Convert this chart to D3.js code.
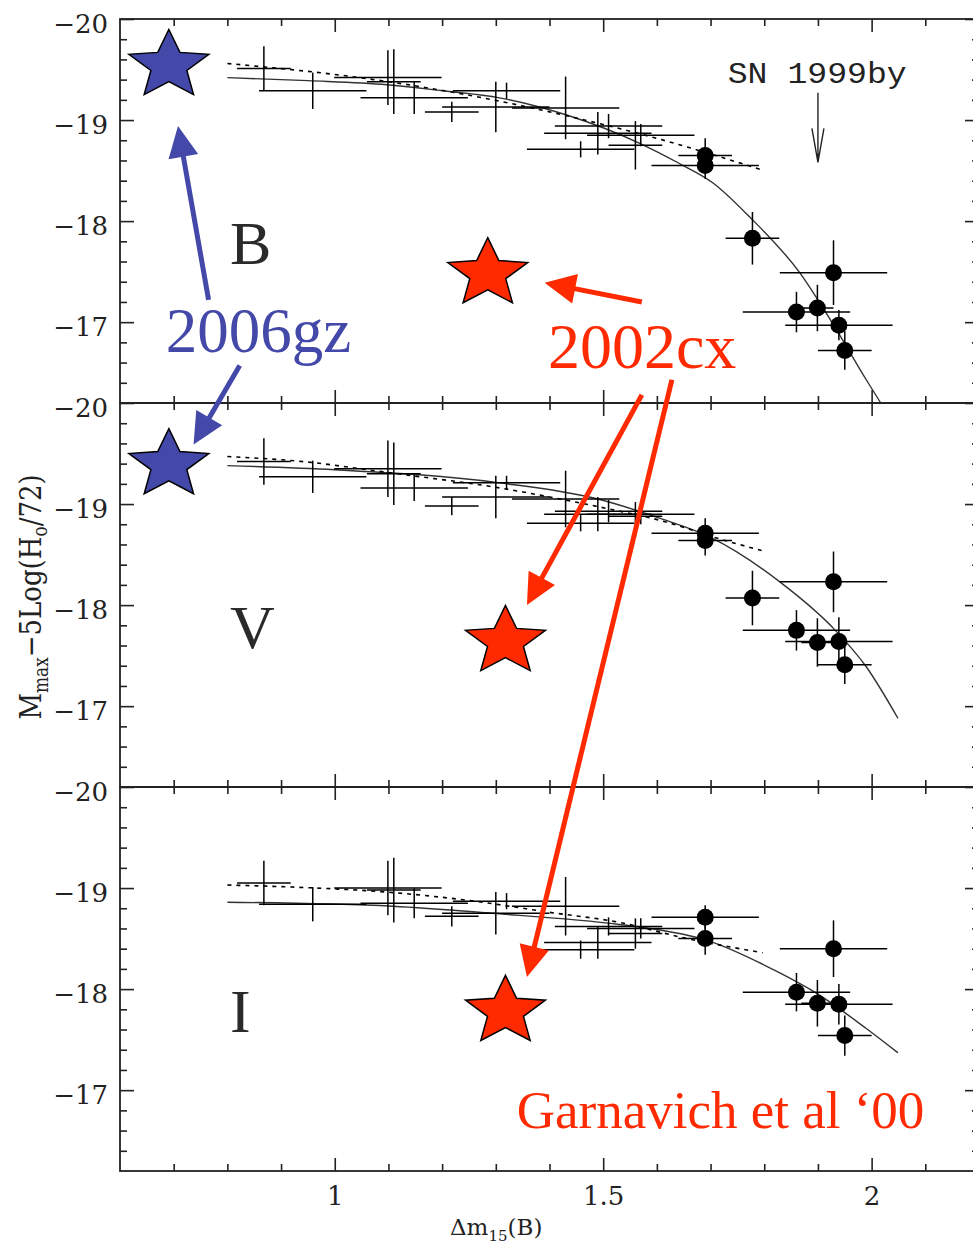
<!DOCTYPE html>
<html>
<head>
<meta charset="utf-8" />
<script src="https://d3js.org/d3.v7.min.js"></script>
<style>
  body { margin: 0; background: #fff; }
  svg { display: block; }
</style>
</head>
<body>
<svg id="viz"></svg>
<script>
var width = 973, height = 1255;

var bands = ["B", "V", "I"];
var yMajor = [-20, -19, -18, -17];
var xMajor = [1, 1.5, 2];

// low-dm15 sample, no marker: [dm15, M, dm15 err, M err]
var crossesB = [
  [0.868,-19.51,0.05,0.22],[0.959,-19.29,0.1,0.18],[1.099,-19.42,0.1,0.27],
  [1.11,-19.38,0.05,0.32],[1.148,-19.22,0.1,0.16],[1.218,-19.08,0.05,0.10],
  [1.30,-19.13,0.1,0.25],[1.32,-19.29,0.1,0.08],[1.43,-19.12,0.1,0.31],
  [1.458,-18.71,0.1,0.08],[1.49,-18.87,0.1,0.21],[1.51,-18.94,0.1,0.12],
  [1.56,-18.75,0.05,0.24],[1.57,-18.85,0.1,0.11]
];
var crossesV = [
  [0.868,-19.42,0.05,0.23],[0.959,-19.27,0.1,0.16],[1.099,-19.35,0.1,0.28],
  [1.11,-19.30,0.05,0.31],[1.148,-19.16,0.1,0.13],[1.218,-18.98,0.05,0.09],
  [1.30,-19.07,0.1,0.21],[1.32,-19.21,0.1,0.07],[1.43,-19.05,0.1,0.28],
  [1.458,-18.81,0.1,0.08],[1.49,-18.90,0.1,0.17],[1.51,-18.93,0.1,0.11],
  [1.56,-18.88,0.05,0.14],[1.57,-18.90,0.1,0.10]
];
var crossesI = [
  [0.868,-19.05,0.05,0.22],[0.959,-18.84,0.1,0.17],[1.099,-19.00,0.1,0.27],
  [1.11,-18.98,0.05,0.32],[1.148,-18.85,0.1,0.15],[1.218,-18.72,0.05,0.10],
  [1.30,-18.75,0.1,0.21],[1.32,-18.87,0.1,0.08],[1.43,-18.82,0.1,0.29],
  [1.458,-18.39,0.1,0.09],[1.49,-18.46,0.1,0.16],[1.51,-18.62,0.1,0.09],
  [1.56,-18.55,0.05,0.15],[1.57,-18.60,0.1,0.10]
];

// fast decliners, filled circles
var filledB = [
  [1.69,-18.65,0.05,0.17],[1.69,-18.55,0.1,0.13],[1.778,-17.83,0.05,0.26],
  [1.929,-17.49,0.1,0.32],[1.86,-17.10,0.1,0.20],[1.899,-17.14,0.03,0.23],
  [1.939,-16.97,0.1,0.15],[1.95,-16.72,0.05,0.19]
];
var filledV = [
  [1.69,-18.71,0.1,0.15],[1.69,-18.64,0.05,0.15],[1.778,-18.07,0.05,0.27],
  [1.929,-18.23,0.1,0.30],[1.86,-17.75,0.1,0.20],[1.899,-17.63,0.03,0.24],
  [1.939,-17.64,0.1,0.24],[1.95,-17.41,0.05,0.19]
];
var filledI = [
  [1.69,-18.71,0.1,0.12],[1.69,-18.50,0.05,0.16],[1.929,-18.40,0.1,0.28],
  [1.86,-17.97,0.1,0.19],[1.899,-17.86,0.03,0.23],[1.939,-17.85,0.1,0.20],
  [1.95,-17.54,0.05,0.20]
];

// solid fits
var fitB = [[0.8,-19.42],[0.95,-19.39],[1.097,-19.35],[1.2,-19.29],[1.307,-19.22],[1.432,-19.05],
  [1.568,-18.77],[1.642,-18.57],[1.704,-18.38],[1.773,-18.04],[1.866,-17.49],[1.927,-16.99],
  [1.99,-16.43],[2.017,-16.2]];
var fitV = [[0.8,-19.38],[1.0,-19.34],[1.307,-19.21],[1.49,-19.05],[1.605,-18.86],[1.70,-18.67],
  [1.829,-18.23],[1.927,-17.78],[1.99,-17.39],[2.049,-16.88]];
var fitI = [[0.8,-18.86],[1.108,-18.82],[1.294,-18.75],[1.53,-18.64],[1.587,-18.60],[1.689,-18.49],
  [1.829,-18.16],[1.897,-17.96],[1.99,-17.61],[2.049,-17.37]];

// dotted fits
var dotB = [[0.8,-19.56],[1.06,-19.41],[1.246,-19.25],[1.45,-19.02],[1.592,-18.83],[1.80,-18.50]];
var dotV = [[0.8,-19.47],[0.96,-19.41],[1.06,-19.34],[1.145,-19.28],[1.307,-19.16],[1.40,-19.07],
  [1.512,-18.95],[1.605,-18.84],[1.72,-18.65],[1.795,-18.54]];
var dotI = [[0.8,-19.03],[0.92,-19.01],[1.097,-18.96],[1.246,-18.88],[1.40,-18.76],[1.53,-18.66],
  [1.648,-18.51],[1.797,-18.36]];

// stars: one per band
var sn2006gz = [[0.691,-19.54],[0.691,-19.39]];
var sn2002cx = [[1.285,-17.48],[1.318,-17.64],[1.318,-17.78]];

// annotations: [panel, x, y]
var gzText = [0, 0.685, -16.70];
var cxText = [0, 1.397, -16.55];
var refText = [2, 1.339, -16.63];
var byText = [0, 1.732, -19.37];
var byArrow = [0, 1.9, -19.27, -18.58];
var gzArrows = [[0,0.765,-17.22, 0,0.708,-18.94],[0,0.823,-16.57, 1,0.737,-19.59]];
var cxArrows = [[0,1.572,-17.20, 0,1.391,-17.39],[0,1.572,-16.28, 1,1.358,-18.00],[0,1.628,-16.43, 2,1.358,-18.12]];

var crosses = [crossesB, crossesV, crossesI];
var filled = [filledB, filledV, filledI];
var fits = [fitB, fitV, fitI];
var dots = [dotB, dotV, dotI];

var blue = "#4348a9", red = "#ff2a00";
var tops = [19, 403, 787], ph = 384;
var left = 120, right = 979;

var svg = d3.select("#viz").attr("width", width).attr("height", height);

var x = d3.scaleLinear().domain([0.6, 2.2]).range([left, right]);
var ys = tops.map(function(t) {
  return d3.scaleLinear().domain([-20, -16.2]).range([t, t + ph]);
});

function P(p, vx, vy) { return [x(vx), ys[p](vy)]; }

var yMinor = d3.range(-19.8, -16.25, 0.2).filter(function(v) { return Math.abs(v - Math.round(v)) > 0.01; });
var xMinor = d3.range(0.7, 2.15, 0.1).filter(function(v) {
  return xMajor.every(function(m) { return Math.abs(m - v) > 0.01; });
});

var line = d3.line().x(function(d) { return x(d[0]); }).curve(d3.curveMonotoneX);

bands.forEach(function(b, i) {
  var y = ys[i];
  var g = svg.append("g");

  // axes, ticks pointing inward
  var ax = g.append("g").attr("class", "axes");

  ax.append("g").attr("transform", "translate(" + left + ",0)")
    .call(d3.axisLeft(y).tickValues(yMajor).tickSize(-14).tickPadding(12).tickFormat(d3.format("")))
    .selectAll("text").attr("dy", "0.5em");
  ax.append("g").attr("transform", "translate(" + left + ",0)")
    .call(d3.axisLeft(y).tickValues(yMinor).tickSize(-7).tickFormat(""));
  ax.append("g").attr("transform", "translate(" + right + ",0)")
    .call(d3.axisRight(y).tickValues(yMajor).tickSize(-14).tickFormat(""));
  ax.append("g").attr("transform", "translate(" + right + ",0)")
    .call(d3.axisRight(y).tickValues(yMinor).tickSize(-7).tickFormat(""));

  ax.append("g").attr("transform", "translate(0," + tops[i] + ")")
    .call(d3.axisTop(x).tickValues(xMajor).tickSize(-13).tickFormat(""));
  ax.append("g").attr("transform", "translate(0," + tops[i] + ")")
    .call(d3.axisTop(x).tickValues(xMinor).tickSize(-7).tickFormat(""));
  ax.append("g").attr("transform", "translate(0," + (tops[i] + ph) + ")")
    .call(d3.axisBottom(x).tickValues(xMajor).tickSize(-13).tickPadding(16)
      .tickFormat(i === 2 ? d3.format("") : ""));
  ax.append("g").attr("transform", "translate(0," + (tops[i] + ph) + ")")
    .call(d3.axisBottom(x).tickValues(xMinor).tickSize(-7).tickFormat(""));

  ax.selectAll(".domain").remove();
  ax.selectAll(".tick line").attr("stroke", "#222").attr("stroke-width", 1.6);
  ax.selectAll(".tick text").attr("fill", "#222")
    .style("font-family", "'DejaVu Serif'").style("font-size", "26px");

  g.append("rect")
    .attr("x", left).attr("y", tops[i])
    .attr("width", right - left).attr("height", ph)
    .attr("fill", "none").attr("stroke", "#222").attr("stroke-width", 1.8);

  // band letter
  g.append("text")
    .attr("x", x(0.805)).attr("y", y(-17.58))
    .style("font-family", "'Liberation Serif'").style("font-size", "62px")
    .attr("fill", "#2a2a2a").text(b);

  // fits
  line.y(function(d) { return y(d[1]); });
  g.append("path").attr("d", line(fits[i]))
    .attr("fill", "none").attr("stroke", "#333").attr("stroke-width", 1.4);
  g.append("path").attr("d", line(dots[i]))
    .attr("fill", "none").attr("stroke", "#000").attr("stroke-width", 1.6)
    .attr("stroke-dasharray", "4,5");

  // error bars
  var pts = crosses[i].concat(filled[i]);
  g.selectAll("line.ex").data(pts).join("line").attr("class", "ex")
    .attr("x1", function(d) { return x(d[0] - d[2]); })
    .attr("x2", function(d) { return x(d[0] + d[2]); })
    .attr("y1", function(d) { return y(d[1]); })
    .attr("y2", function(d) { return y(d[1]); })
    .attr("stroke", "#000").attr("stroke-width", 1.5);
  g.selectAll("line.ey").data(pts).join("line").attr("class", "ey")
    .attr("x1", function(d) { return x(d[0]); })
    .attr("x2", function(d) { return x(d[0]); })
    .attr("y1", function(d) { return y(d[1] - d[3]); })
    .attr("y2", function(d) { return y(d[1] + d[3]); })
    .attr("stroke", "#000").attr("stroke-width", 1.5);

  g.selectAll("circle").data(filled[i]).join("circle")
    .attr("cx", function(d) { return x(d[0]); })
    .attr("cy", function(d) { return y(d[1]); })
    .attr("r", 8.5).attr("fill", "#000");
});

// axis titles
svg.append("text")
  .attr("x", 450).attr("y", 1235)
  .style("font-family", "'DejaVu Serif'").style("font-size", "23px").attr("fill", "#222")
  .call(function(t) {
    t.append("tspan").text("Δm");
    t.append("tspan").attr("dy", 6).style("font-size", "15px").text("15");
    t.append("tspan").attr("dy", -6).text("(B)");
  });

svg.append("text")
  .attr("transform", "translate(41,597) scale(1.15,1) rotate(-90)")
  .attr("text-anchor", "middle")
  .style("font-family", "'DejaVu Serif'").style("font-size", "26px").attr("fill", "#222")
  .call(function(t) {
    t.append("tspan").text("M");
    t.append("tspan").attr("dy", 6).style("font-size", "17px").text("max");
    t.append("tspan").attr("dy", -6).text("−5Log(H");
    t.append("tspan").attr("dy", 5).style("font-size", "17px").text("o");
    t.append("tspan").attr("dy", -5).text("/72)");
  });

// SN 1999by marker
var byP = P(byText[0], byText[1], byText[2]);
svg.append("text").attr("x", byP[0]).attr("y", byP[1])
  .attr("textLength", 179).attr("lengthAdjust", "spacingAndGlyphs")
  .style("font-family", "'Liberation Mono'").style("font-size", "30px").attr("fill", "#222")
  .text("SN 1999by");
var by0 = P(byArrow[0], byArrow[1], byArrow[2]), by1 = P(byArrow[0], byArrow[1], byArrow[3]);
svg.append("path")
  .attr("d", "M" + by0 + "L" + by1 + "M" + [by1[0] - 6, by1[1] - 34] + "L" + by1 + "L" + [by1[0] + 6, by1[1] - 34])
  .attr("fill", "none").attr("stroke", "#222").attr("stroke-width", 1.4);

// stars
function starPath(rx, ry) {
  var pts = [];
  for (var k = 0; k < 10; k++) {
    var a = -Math.PI / 2 + k * Math.PI / 5, r = k % 2 ? 0.45 : 1;
    pts.push([Math.cos(a) * r * rx, Math.sin(a) * r * ry]);
  }
  return "M" + pts.join("L") + "Z";
}
var starD = starPath(42, 36);

// arrows
function arrow(a, color) {
  var s = P(a[0], a[1], a[2]), e = P(a[3], a[4], a[5]);
  var dx = e[0] - s[0], dy = e[1] - s[1], len = Math.sqrt(dx * dx + dy * dy);
  var ux = dx / len, uy = dy / len, L = 31, W = 15;
  var bx = e[0] - ux * L, by = e[1] - uy * L;
  svg.append("line").attr("x1", s[0]).attr("y1", s[1]).attr("x2", bx + ux * 2).attr("y2", by + uy * 2)
    .attr("stroke", color).attr("stroke-width", 5);
  svg.append("path")
    .attr("d", "M" + e + "L" + [bx - uy * W, by + ux * W] + "L" + [bx + uy * W, by - ux * W] + "Z")
    .attr("fill", color);
}
gzArrows.forEach(function(a) { arrow(a, blue); });
cxArrows.forEach(function(a) { arrow(a, red); });

svg.selectAll("path.gz").data(sn2006gz).join("path").attr("class", "gz")
  .attr("d", starD)
  .attr("transform", function(d, i) { return "translate(" + P(i, d[0], d[1]) + ")"; })
  .attr("fill", blue).attr("stroke", "#000").attr("stroke-width", 1.5);
svg.selectAll("path.cx").data(sn2002cx).join("path").attr("class", "cx")
  .attr("d", starD)
  .attr("transform", function(d, i) { return "translate(" + P(i, d[0], d[1]) + ")"; })
  .attr("fill", red).attr("stroke", "#000").attr("stroke-width", 1.5);

// annotation text
var gzP = P(gzText[0], gzText[1], gzText[2]);
svg.append("text").attr("x", gzP[0]).attr("y", gzP[1])
  .style("font-family", "'Liberation Serif'").style("font-size", "63px").attr("fill", blue)
  .text("2006gz");
var cxP = P(cxText[0], cxText[1], cxText[2]);
svg.append("text").attr("x", cxP[0]).attr("y", cxP[1])
  .style("font-family", "'Liberation Serif'").style("font-size", "64px").attr("fill", red)
  .text("2002cx");
var refP = P(refText[0], refText[1], refText[2]);
svg.append("text").attr("x", refP[0]).attr("y", refP[1])
  .style("font-family", "'Liberation Serif'").style("font-size", "53px").attr("fill", red)
  .text("Garnavich et al ‘00");
</script>
</body>
</html>
